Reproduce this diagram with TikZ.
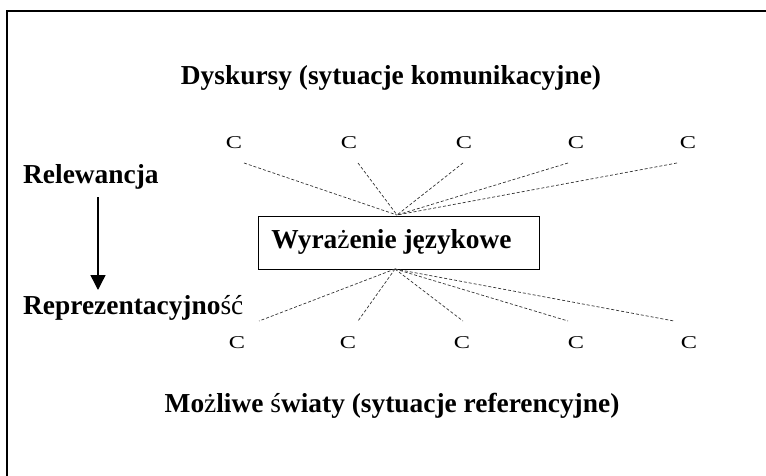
\documentclass[tikz,border=0pt]{standalone}
\usepackage{fontspec}
\usepackage{graphicx}
\setmainfont{Liberation Serif}
\usetikzlibrary{arrows.meta}
\begin{document}
\begin{tikzpicture}[x=1pt,y=-1pt,
  big/.style={font=\fontsize{27.4}{30}\selectfont\bfseries, inner sep=0pt},
  cnode/.style={font=\fontsize{18}{20}\selectfont, inner sep=0pt, anchor=base},
  dline/.style={draw=black!80, line width=0.7pt, dash pattern=on 3pt off 2pt},
  frame/.style={draw=black, line width=1.8pt}]
\useasboundingbox (0,0) rectangle (766,476);
\draw[frame] (7,11) rectangle (790,500);
% titles
\node[big, anchor=base] (disc) at (391,85) {Dyskursy (sytuacje komunikacyjne)};
\node[big, anchor=base] (worlds) at (392,412) {Mo\textmd{ż}liwe \textmd{ś}wiaty (sytuacje referencyjne)};
% side labels
\node[big, anchor=base west] (rel) at (23,183) {Relewancja};
\node[big, anchor=base west] (rep) at (23,314) {Reprezentacyjno\textmd{ść}};
\coordinate (a1) at (98,197);
\coordinate (a2) at (98,290);
\draw[line width=1.4pt, -{Triangle[width=15pt,length=15pt]}] (a1) -- (a2);
% central box
\node[draw=black, line width=1pt, minimum width=281pt, minimum height=53pt, inner sep=0pt] (box) at (398.5,242.5) {};
\node[big, anchor=base] (boxtext) at (391.5,248) {Wyra\textmd{ż}enie j\k{e}zykowe};
\coordinate (tc) at (397,215);
\coordinate (bc) at (395,269);
% Cs
\foreach \i/\x in {1/234,2/349,3/464,4/576,5/688}
  \node[cnode] (ct\i) at (\x,149) {\scalebox{1.35}[1]{C}};
\foreach \i/\x in {1/237,2/348,3/462,4/576,5/689}
  \node[cnode] (cb\i) at (\x,348) {\scalebox{1.35}[1]{C}};
% line ends
\foreach \i/\x in {1/244,2/358,3/463,4/568,5/677}
  \coordinate (ut\i) at (\x,163);
\foreach \i/\x in {1/259,2/358,3/463,4/568,5/674}
  \coordinate (ub\i) at (\x,321);
\foreach \i in {1,...,5} {
  \draw[dline] (ut\i) -- (tc);
  \draw[dline] (bc) -- (ub\i);
}
\end{tikzpicture}
\end{document}
